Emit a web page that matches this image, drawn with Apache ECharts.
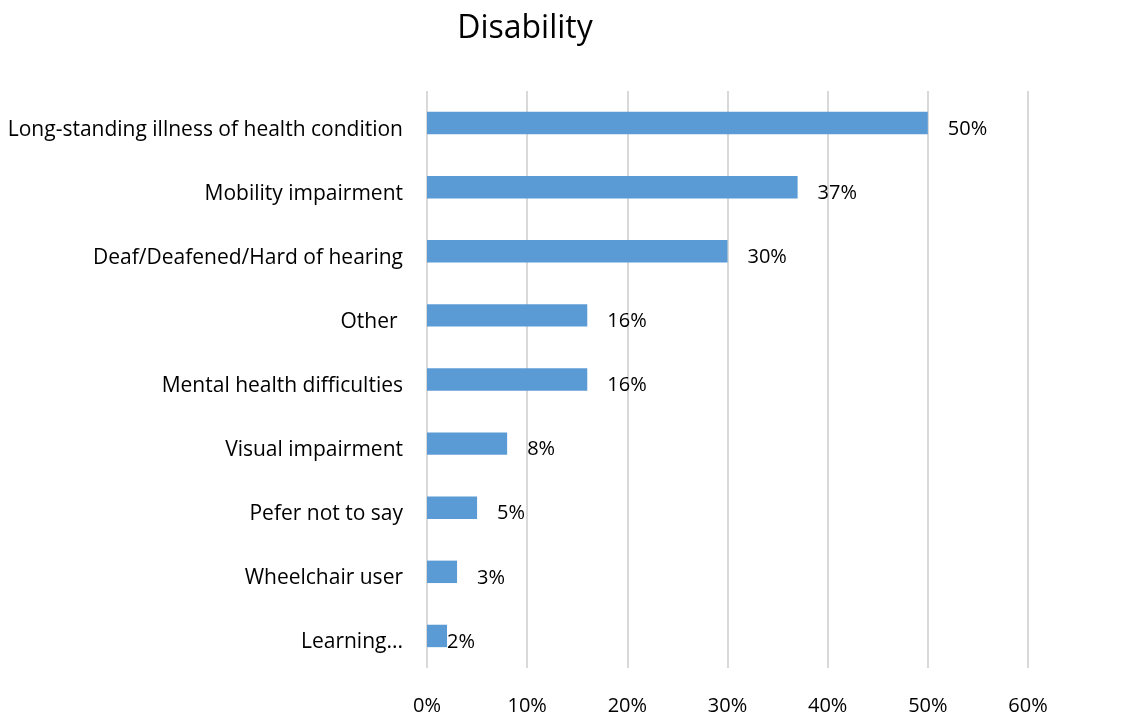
<!DOCTYPE html>
<html>
<head>
<meta charset="utf-8">
<script src="https://cdn.jsdelivr.net/npm/echarts@6/dist/echarts.min.js"></script>
<style>
html,body{margin:0;padding:0;background:#fff;}
#chart{width:1147px;height:717px;}
</style>
</head>
<body>
<div id="chart"></div>
<script>
var categories = [
  "Long-standing illness of health condition",
  "Mobility impairment",
  "Deaf/Deafened/Hard of hearing",
  "Other ",
  "Mental health difficulties",
  "Visual impairment",
  "Pefer not to say",
  "Wheelchair user",
  "Learning..."
];
var values = [50, 37, 30, 16, 16, 8, 5, 3, 2];
var xTicks = [0, 10, 20, 30, 40, 50, 60];

var FONT = 'Open Sans';
var FS = 21;
var chart = echarts.init(document.getElementById('chart'));

var data = values.map(function (v, i) {
  var item = { value: v };
  if (i === values.length - 1) {
    item.label = { distance: 0 };
  }
  return item;
});

chart.setOption({
  animation: false,
  backgroundColor: '#ffffff',
  title: {
    text: 'Disability',
    left: 520,
    top: 8,
    textAlign: 'center',
    textStyle: { fontFamily: FONT, fontSize: 32, fontWeight: 'normal', color: '#000' }
  },
  grid: { left: 427, right: 119, top: 91, bottom: 49, containLabel: false },
  xAxis: {
    type: 'value',
    min: xTicks[0],
    max: xTicks[xTicks.length - 1],
    interval: 10,
    axisLine: { show: false },
    axisTick: { show: false },
    splitLine: { show: true, lineStyle: { color: '#D9D9D9', width: 2 } },
    axisLabel: {
      margin: 28,
      formatter: '{value}%',
      fontFamily: FONT, fontSize: 20, color: '#000'
    }
  },
  yAxis: {
    type: 'category',
    inverse: true,
    data: categories,
    axisLine: { show: false },
    axisTick: { show: false },
    axisLabel: {
      margin: 24,
      formatter: function (v) { return '{a|' + v + '}'; },
      rich: { a: { padding: [13, 0, 0, 0], fontFamily: FONT, fontSize: FS, color: '#000' } },
      fontFamily: FONT, fontSize: FS, color: '#000'
    }
  },
  series: [{
    type: 'bar',
    data: data,
    barWidth: '35%',
    itemStyle: { color: '#5B9BD5' },
    label: {
      show: true,
      position: 'right',
      distance: 20,
      offset: [0, 6],
      formatter: '{c}%',
      fontFamily: FONT, fontSize: 20, color: '#000'
    }
  }]
});
</script>
</body>
</html>
